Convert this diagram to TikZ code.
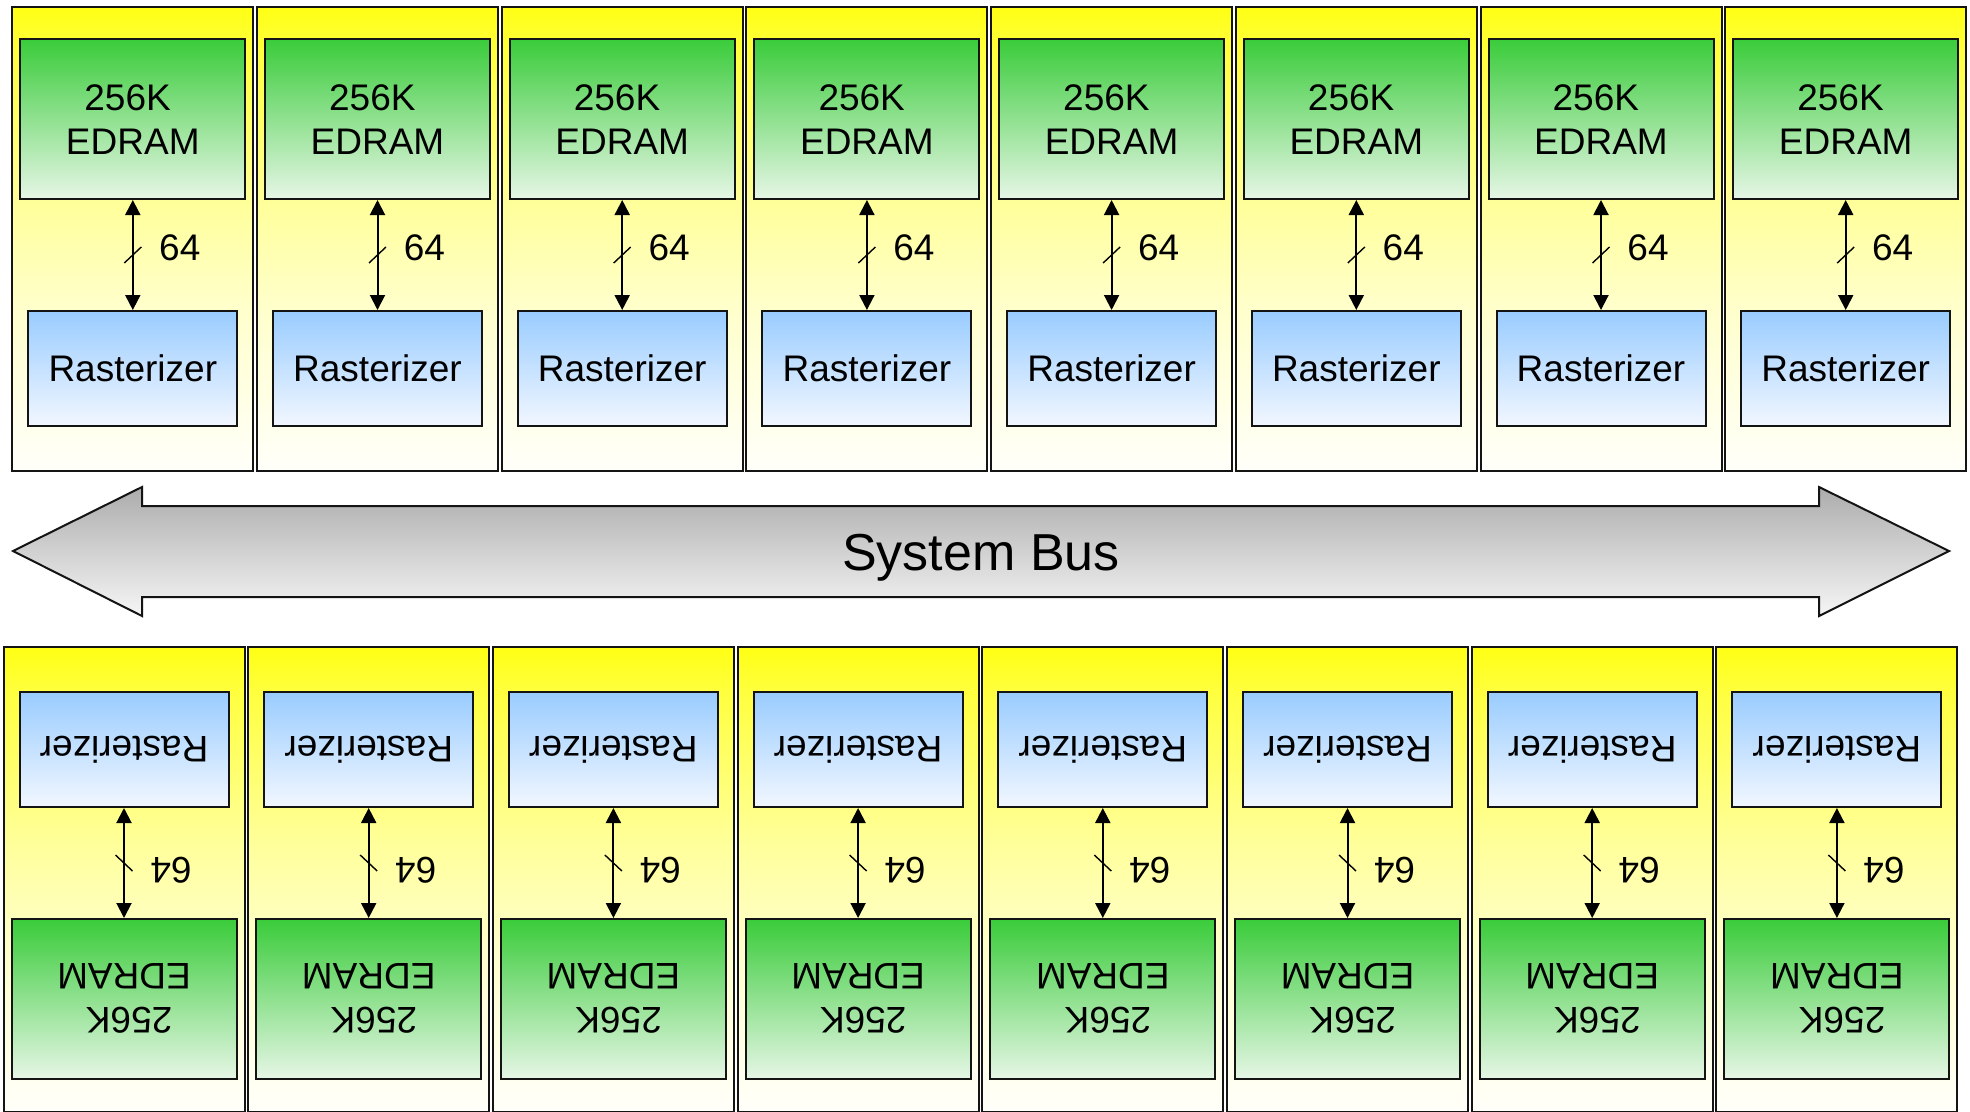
\documentclass[tikz,border=0pt]{standalone}
\usepackage{fontspec}
\setmainfont{Liberation Sans}
\usepackage{graphicx}
\usetikzlibrary{arrows.meta}

% palette
\definecolor{edramtop}{RGB}{58,204,58}
\definecolor{edrambot}{RGB}{230,246,230}
\definecolor{rastop}{RGB}{153,204,255}
\definecolor{rasbot}{RGB}{242,247,255}
\definecolor{bustop}{RGB}{172,172,172}
\definecolor{busbot}{RGB}{246,246,246}
\definecolor{outline}{RGB}{20,20,20}
\definecolor{fya}{RGB}{255,255,20}
\definecolor{fyb}{RGB}{255,255,64}
\definecolor{fyc}{RGB}{255,255,154}
\definecolor{fyd}{RGB}{255,255,204}
\definecolor{fye}{RGB}{255,255,250}

% yellow-to-white fade of the tile backgrounds (path spans 25bp..75bp)
\pgfdeclareverticalshading{yfade}{100bp}{color(0bp)=(fye); color(25bp)=(fye);
  color(42.5bp)=(fyd); color(54bp)=(fyc); color(70bp)=(fyb); color(75bp)=(fya);
  color(100bp)=(fya)}

% two-line memory label, padded so its box is centred on the glyphs
\newcommand\edramlabel{\begin{tabular}{@{}c@{}}\rule{0pt}{39.6pt}256K\kern.28em\\EDRAM\end{tabular}}

\tikzset{
  tile/.style={draw=outline, line width=2pt, shading=yfade,
    minimum width=241pt, minimum height=464pt, inner sep=0pt},
  edram/.style={draw=outline, line width=2pt, top color=edramtop, bottom color=edrambot,
    minimum width=225pt, minimum height=160pt, inner sep=0pt},
  raster/.style={draw=outline, line width=2pt, top color=rastop, bottom color=rasbot,
    minimum width=209pt, minimum height=115pt, inner sep=0pt},
  link/.style={line width=2pt,
    {Triangle[length=15pt,width=15pt]}-{Triangle[length=15pt,width=15pt]}},
  slashmark/.style={line width=1.4pt},
  lbl/.style={inner sep=0pt},
}

\begin{document}
\begin{tikzpicture}[x=1pt, y=-1pt, font=\fontsize{37}{44}\selectfont]
\useasboundingbox (0,0) rectangle (1970,1111);
\fill[white] (0,0) rectangle (1970,1111);

% upper row of tiles
\foreach \i in {0,...,7}{
  \pgfmathsetmacro\L{12.3+244.7*\i}
  \node[tile] (ft\i) at (\L+120.5, 239) {};
  \node[edram] (et\i) at (\L+120.5, 119) {\edramlabel};
  \node[raster] (rt\i) at (\L+120.5, 368.5) {Rasterizer};
  \draw[link] (et\i.south) -- coordinate (mt\i) (rt\i.north);
  \draw[slashmark] ([shift={(-8.5,8)}]mt\i) -- ([shift={(8.5,-8)}]mt\i);
  \node[lbl] (wt\i) at ([shift={(47,-7)}]mt\i) {64};
}

% lower row of tiles, laid out upside down
\foreach \i in {0,...,7}{
  \pgfmathsetmacro\B{3.5+244.7*\i}
  \node[tile, minimum height=465pt] (fb\i) at (\B+120.5, 879.5) {};
  \node[edram] (eb\i) at (\B+120.5, 999) {\rotatebox{180}{\edramlabel}};
  \node[raster] (rb\i) at (\B+120.5, 749.5) {\rotatebox{180}{Rasterizer}};
  \draw[link] (rb\i.south) -- coordinate (mb\i) (eb\i.north);
  \draw[slashmark] ([shift={(-8.5,-8)}]mb\i) -- ([shift={(8.5,8)}]mb\i);
  \node[lbl] (wb\i) at ([shift={(47,7)}]mb\i) {\rotatebox{180}{64}};
}

% system bus: double-headed block arrow
\path[draw=outline, line width=2pt, top color=bustop, bottom color=busbot]
  (13,551) -- (142,487) -- (142,506) -- (1819,506) -- (1819,487) -- (1949,551)
  -- (1819,616) -- (1819,597) -- (142,597) -- (142,616) -- cycle;
\node[font=\fontsize{52}{60}\selectfont, text depth=0pt, inner sep=0pt] (bus) at (981,552) {System Bus};
\end{tikzpicture}
\end{document}
